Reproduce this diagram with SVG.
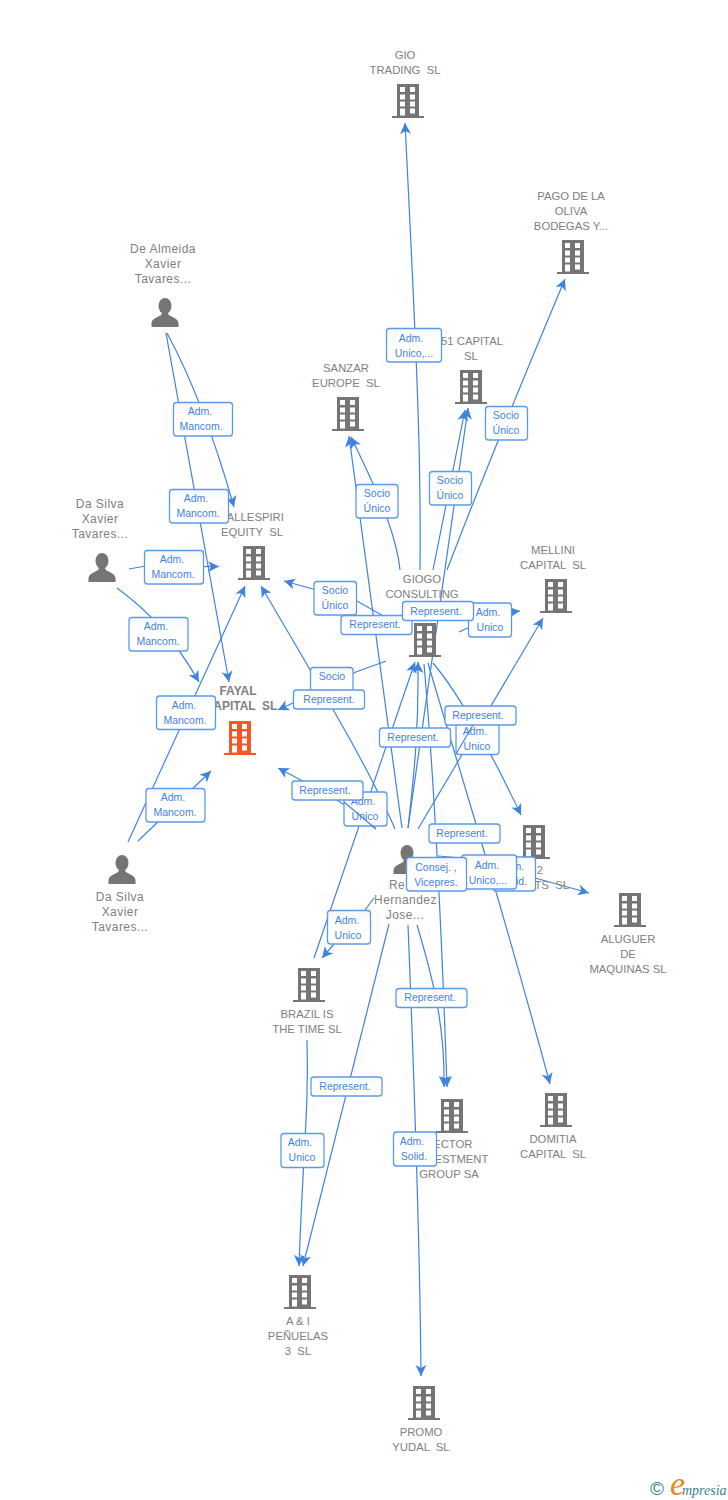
<svg xmlns="http://www.w3.org/2000/svg" xmlns:xlink="http://www.w3.org/1999/xlink" width="728" height="1500" viewBox="0 0 728 1500">
<style>
text{font-family:"Liberation Sans",Arial,sans-serif}
.n{font-size:11.300px;fill:#808080;text-anchor:middle;white-space:pre}
.p{font-size:12px;letter-spacing:.45px}
.b{font-weight:bold;font-size:12px}
.c{fill:none;stroke:#3f83e2;stroke-width:1.2;marker-end:url(#ah)}
.s{fill:none;stroke:#3f83e2;stroke-width:1.2}
.l rect{fill:url(#lg);stroke:#5c9ae8;stroke-width:1.3}
.l text{font-size:10.5px;fill:#3f83e2;text-anchor:middle}
.ico{fill:#757575}
.org{fill:#f4572a}
</style>
<defs>
<marker id="ah" markerUnits="userSpaceOnUse" markerWidth="12" markerHeight="12" viewBox="0 0 12 12" refX="11" refY="6" orient="auto"><path d="M0,0.5L11,6L0,11.5L3,6z" fill="#3f83e2"/></marker>
<linearGradient id="lg" x1="0" y1="0" x2="0" y2="1"><stop offset="0" stop-color="#f5f7fa"/><stop offset=".35" stop-color="#fff"/><stop offset="1" stop-color="#fff"/></linearGradient>
<g id="w"><path fill="#fff" d="M-8,3h5v5h-5zM2,3h5v5h-5zM-8,10.500h5v5h-5zM2,10.500h5v5h-5zM-8,17.500h5v5h-5zM2,17.500h5v5h-5zM-8,24.500h5v7h-5zM2,24.500h5v5h-5z"/></g>
<g id="bld"><path d="M-11,0H11V32H16V34H-16V32H-11z"/><use href="#w"/></g>
<g id="per"><ellipse cx="0" cy="8" rx="6.500" ry="8"/><path d="M-3,15C-3,19 -13,19 -13.500,25V29H13.500V25C13,19 3,19 3,15z"/></g>
</defs>

<g id="connectors">
<path class="c" d="M420,570C421,470 419,400 405,123"/>
<path class="c" d="M447,570C470,510 510,410 565,279"/>
<path class="c" d="M433,570L465,410"/>
<path class="c" d="M408,828L468,408"/>
<path class="c" d="M400,570C396,530 372,480 351,437"/>
<path class="c" d="M402,828L349,436"/>
<path class="c" d="M167,333C195,385 215,440 234,507"/>
<path class="c" d="M166,333L229,682"/>
<path class="s" d="M129,569L146,566"/>
<path class="c" d="M203,566.500L219,566.500"/>
<path class="c" d="M117,588C150,612 175,640 199,682"/>
<path class="c" d="M128,842L245,586"/>
<path class="c" d="M138,841L211,771"/>
<path class="c" d="M385,617L357,601L313,589L284,581"/>
<path class="c" d="M386,661L356,672L295,702L278,710"/>
<path class="c" d="M395,829C370,770 325,695 261,586"/>
<path class="c" d="M376,829C350,805 320,790 278,768"/>
<path class="c" d="M314,958L415,662"/>
<path class="c" d="M408,828C412,790 419,740 418,662"/>
<path class="c" d="M418,829L543,618"/>
<path class="s" d="M459,632L470,627"/>
<path class="c" d="M511,612L520,611"/>
<path class="c" d="M433,663C460,695 490,750 521,815"/>
<path class="c" d="M428,663C465,790 495,880 550,1084"/>
<path class="c" d="M424,664C435,790 442,940 447,1087"/>
<path class="c" d="M417,925C435,985 445,1030 444,1087"/>
<path class="s" d="M438,856L462,858"/>
<path class="c" d="M535,878L589,893"/>
<path class="c" d="M408,925C415,1100 420,1250 421,1376"/>
<path class="c" d="M389,924L303,1266"/>
<path class="c" d="M307,1040C309,1110 303,1150 299,1266"/>
<path class="s" d="M374,898L365,910"/>
<path class="c" d="M334,944L322,958"/>
</g>

<g id="n-gio"><text class="n" x="405" y="59">GIO</text><text class="n" x="405" y="74">TRADING  SL</text><use href="#bld" x="408" y="84" class="ico"/></g>
<g id="n-pago"><text class="n" x="571" y="200">PAGO DE LA</text><text class="n" x="571" y="215">OLIVA</text><text class="n" x="571" y="230">BODEGAS Y...</text><use href="#bld" x="573" y="240" class="ico"/></g>
<g id="n-51"><text class="n" x="472" y="345">51 CAPITAL</text><text class="n" x="471" y="360">SL</text><use href="#bld" x="471" y="370" class="ico"/></g>
<g id="n-sanzar"><text class="n" x="346" y="372">SANZAR</text><text class="n" x="346" y="387">EUROPE  SL</text><use href="#bld" x="348" y="397" class="ico"/></g>
<g id="n-vallespiri"><text class="n" x="252" y="521">VALLESPIRI</text><text class="n" x="252" y="536">EQUITY  SL</text><use href="#bld" x="254" y="546" class="ico"/></g>
<g id="n-mellini"><text class="n" x="553" y="554">MELLINI</text><text class="n" x="553" y="569">CAPITAL  SL</text><use href="#bld" x="556" y="579" class="ico"/></g>
<g id="n-giogo"><text class="n" x="422" y="583">GIOGO</text><text class="n" x="422" y="598">CONSULTING</text><use href="#bld" x="425" y="623" class="ico"/></g>
<g id="n-fayal"><text class="n b" x="238" y="695">FAYAL</text><text class="n b" x="241" y="710">CAPITAL  SL</text><use href="#bld" x="240" y="721" class="org"/></g>
<g id="n-dealmeida"><text class="n p" x="163" y="253">De Almeida</text><text class="n p" x="163" y="268">Xavier</text><text class="n p" x="163" y="283">Tavares...</text><use href="#per" x="165" y="298" class="ico"/></g>
<g id="n-dasilva1"><text class="n p" x="100" y="508">Da Silva</text><text class="n p" x="100" y="523">Xavier</text><text class="n p" x="100" y="538">Tavares...</text><use href="#per" x="102" y="553" class="ico"/></g>
<g id="n-dasilva2"><text class="n p" x="120" y="901">Da Silva</text><text class="n p" x="120" y="916">Xavier</text><text class="n p" x="120" y="931">Tavares...</text><use href="#per" x="122" y="855" class="ico"/></g>
<g id="n-re"><use href="#per" x="407" y="845" class="ico"/><text class="n p" x="389" y="889" style="text-anchor:start">Re</text><text class="n p" x="405.500" y="904">Hernandez</text><text class="n p" x="405" y="919">Jose...</text></g>
<g id="n-x2"><use href="#bld" x="534" y="825" class="ico"/><text class="n" x="543" y="874" style="text-anchor:end">2</text><text class="n" x="569" y="889" style="text-anchor:end">TS  SL</text></g>
<g id="n-aluguer"><use href="#bld" x="630" y="893" class="ico"/><text class="n" x="628" y="943">ALUGUER</text><text class="n" x="628" y="958">DE</text><text class="n" x="628" y="973">MAQUINAS SL</text></g>
<g id="n-brazil"><use href="#bld" x="309" y="968" class="ico"/><text class="n" x="307" y="1018">BRAZIL IS</text><text class="n" x="307" y="1033">THE TIME SL</text></g>
<g id="n-vector"><use href="#bld" x="452" y="1099" class="ico"/><text class="n" x="449" y="1148">VECTOR</text><text class="n" x="452" y="1163">INVESTMENT</text><text class="n" x="449" y="1178">GROUP SA</text></g>
<g id="n-domitia"><use href="#bld" x="556" y="1093" class="ico"/><text class="n" x="553" y="1143">DOMITIA</text><text class="n" x="553" y="1158">CAPITAL  SL</text></g>
<g id="n-ai"><use href="#bld" x="300" y="1275" class="ico"/><text class="n" x="298" y="1325">A &amp; I</text><text class="n" x="298" y="1340">PEÑUELAS</text><text class="n" x="298" y="1355">3  SL</text></g>
<g id="n-promo"><use href="#bld" x="424" y="1386" class="ico"/><text class="n" x="421" y="1436">PROMO</text><text class="n" x="421" y="1451">YUDAL  SL</text></g>

<g id="labels">
<g class="l"><rect x="386.500" y="328.500" width="55" height="33.500" rx="3"/><text x="411" y="342">Adm.</text><text x="414" y="357">Unico,...</text></g>
<g class="l"><rect x="485.500" y="406.500" width="42" height="33.500" rx="3"/><text x="506" y="419">Socio</text><text x="506" y="434">Único</text></g>
<g class="l"><rect x="429.500" y="471.500" width="42" height="33.500" rx="3"/><text x="450" y="484">Socio</text><text x="450" y="499">Único</text></g>
<g class="l"><rect x="356" y="484.500" width="42" height="33.500" rx="3"/><text x="377" y="497">Socio</text><text x="377" y="512">Único</text></g>
<g class="l"><rect x="173.500" y="402.500" width="59" height="33.500" rx="3"/><text x="200" y="415">Adm.</text><text x="201" y="430">Mancom.</text></g>
<g class="l"><rect x="169.500" y="489.500" width="59" height="33.500" rx="3"/><text x="196" y="502">Adm.</text><text x="198" y="517">Mancom.</text></g>
<g class="l"><rect x="144.500" y="550.500" width="59" height="33.500" rx="3"/><text x="172" y="563">Adm.</text><text x="173" y="578">Mancom.</text></g>
<g class="l"><rect x="129" y="617.500" width="59" height="33.500" rx="3"/><text x="156" y="630">Adm.</text><text x="158" y="645">Mancom.</text></g>
<g class="l"><rect x="156.500" y="696" width="59" height="33.500" rx="3"/><text x="184" y="709">Adm.</text><text x="185" y="724">Mancom.</text></g>
<g class="l"><rect x="146" y="788.500" width="59" height="33.500" rx="3"/><text x="173" y="801">Adm.</text><text x="175" y="816">Mancom.</text></g>
<g class="l"><rect x="314" y="581.500" width="42.500" height="33.500" rx="3"/><text x="335" y="594">Socio</text><text x="335" y="609">Único</text></g>
<g class="l"><rect x="310.500" y="667.500" width="42.500" height="33.500" rx="3"/><text x="332" y="680">Socio</text></g>
<g class="l"><rect x="293.500" y="690" width="71" height="19" rx="3"/><text x="329" y="703">Represent.</text></g>
<g class="l"><rect x="341" y="615.500" width="71" height="19" rx="3"/><text x="375" y="628">Represent.</text></g>
<g class="l"><rect x="468.500" y="603" width="43" height="34" rx="3"/><text x="488" y="616">Adm.</text><text x="490" y="631">Unico</text></g>
<g class="l"><rect x="402.500" y="601.500" width="71" height="19" rx="3"/><text x="436" y="615">Represent.</text></g>
<g class="l"><rect x="456" y="720" width="43" height="34.500" rx="3"/><text x="475" y="735">Adm.</text><text x="477" y="750">Unico</text></g>
<g class="l"><rect x="445" y="706" width="71" height="19" rx="3"/><text x="478" y="719">Represent.</text></g>
<g class="l"><rect x="379.500" y="728" width="71" height="19" rx="3"/><text x="413" y="741">Represent.</text></g>
<g class="l"><rect x="344" y="792" width="43" height="34" rx="3"/><text x="363" y="805">Adm.</text><text x="365" y="820">Unico</text></g>
<g class="l"><rect x="292" y="781" width="71" height="19" rx="3"/><text x="325" y="794">Represent.</text></g>
<g class="l"><rect x="429" y="824" width="71" height="19" rx="3"/><text x="462" y="837">Represent.</text></g>
<g class="l"><rect x="493" y="857" width="42.500" height="34" rx="3"/><text x="512" y="870">Adm.</text><text x="514" y="885">Solid.</text></g>
<g class="l"><rect x="461.500" y="855" width="55" height="34" rx="3"/><text x="487" y="869">Adm.</text><text x="488" y="884">Unico,...</text></g>
<g class="l"><rect x="406.500" y="857.500" width="60" height="33.500" rx="3"/><text x="436" y="871">Consej. ,</text><text x="436" y="886">Vicepres.</text></g>
<g class="l"><rect x="327.500" y="910.500" width="43" height="33.500" rx="3"/><text x="347" y="924">Adm.</text><text x="348" y="939">Unico</text></g>
<g class="l"><rect x="396" y="988.500" width="71" height="19" rx="3"/><text x="430" y="1001">Represent.</text></g>
<g class="l"><rect x="311" y="1077" width="71" height="19" rx="3"/><text x="345" y="1090">Represent.</text></g>
<g class="l"><rect x="281" y="1133.500" width="43" height="34" rx="3"/><text x="300" y="1146">Adm.</text><text x="302" y="1161">Unico</text></g>
<g class="l"><rect x="393.500" y="1132" width="43" height="34" rx="3"/><text x="412" y="1145">Adm.</text><text x="414" y="1160">Solid.</text></g>
</g>

<g id="connectors-over">
<path class="s" d="M473,725L456,754"/>
<path class="s" d="M344,802L376,829"/>
</g>

<g id="logo">
<text x="650" y="1495" font-size="19" fill="#3d7f96">©</text>
<text x="670" y="1495" font-size="34" font-style="italic" style="font-family:'Liberation Serif',serif" fill="#f0871e">e</text>
<text x="682" y="1495" font-size="14" font-style="italic" style="font-family:'Liberation Serif',serif" fill="#3d7f96">mpresia</text>
</g>
</svg>
